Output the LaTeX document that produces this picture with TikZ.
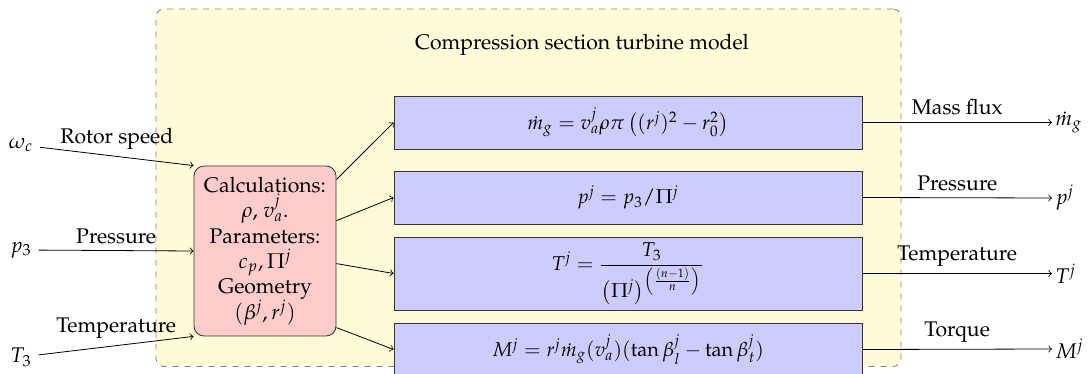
\documentclass[tikz,border=0pt]{standalone}
\usepackage[T1]{fontenc}
\usepackage{mathpazo}
\usepackage{amsmath}
\usetikzlibrary{positioning}
\definecolor{modelbg}{RGB}{255,250,215}

\begin{document}
\begin{tikzpicture}[x=0.5pt,y=-0.5pt,
    font=\fontsize{10.6}{12.7}\selectfont,
    modelbox/.style={draw=gray, dashed, fill=modelbg, rounded corners=4pt,
        minimum width=372.5pt, minimum height=178.75pt},
    calcbox/.style={draw=black!80, fill=red!20, rounded corners=5pt, align=center,
        minimum width=71pt, minimum height=85pt, inner sep=1pt},
    eqbox/.style={draw=black!80, fill=blue!20, minimum width=234pt,
        minimum height=26.5pt, inner sep=2pt, font=\normalsize},
    outlabel/.style={anchor=west, inner sep=1.5pt},
    signal/.style={->}]
    \useasboundingbox (0,0) rectangle (1089,374);

    % background of the model
    \node[modelbox] (model) at (528.5,187.75) {};
    \node (title) at (582,45) {Compression section turbine model};

    % central block
    \node[calcbox] (calc) at (265,251) {Calculations:\\ $\rho$, $v_a^j$.\\ Parameters:\\ $c_p, \Pi^j$\\ Geometry\\ $(\beta^j, r^j)$};

    % equations
    \node[eqbox] (mass) at (628,122.5) {$\dot{m}_g = v_a^j\rho\pi\left((r^j)^2 - r_0^2\right)$};
    \node[eqbox] (press) at (628,197.5) {$p^j = p_3/\Pi^j$};
    \node[eqbox, minimum height=36.5pt] (temp) at (628,273.5) {$T^j = \dfrac{T_3}{\left(\Pi^j\right)^{\left(\frac{(n-1)}{n}\right)}}$};
    \node[eqbox] (torque) at (628,349.5) {$M^j = r^j\dot{m}_g(v_a^j)(\tan\beta_l^j - \tan\beta_t^j)$};

    % inputs
    \node (omega) at (21,145) {$\omega_c$};
    \node (pin) at (21,250) {$p_3$};
    \node (tin) at (21,357) {$T_3$};

    \draw[signal] (omega) -- node[above] (lrotor) {Rotor speed} (calc.north west);
    \draw[signal] (pin) -- node[above] (lpin) {Pressure} (calc.west);
    \draw[signal] (tin) -- node[above] (ltin) {Temperature} (calc.south west);

    \draw[signal] (calc.45) -- (mass.west);
    \draw[signal] (calc.23) -- (press.west);
    \draw[signal] (calc.-10) -- (temp.west);
    \draw[signal] (calc.-47) -- (torque.west);

    % outputs
    \node[outlabel] (mout) at (1052,122.5) {$\dot{m}_g$};
    \node[outlabel] (pout) at (1052,198) {$p^j$};
    \node[outlabel] (tout) at (1052,273.5) {$T^j$};
    \node[outlabel] (Mout) at (1052,349) {$M^j$};

    \draw[signal] (mass.east) -- node[above] (lmass) {Mass flux} (mout.west);
    \draw[signal] (press.east) -- node[above] (lpout) {Pressure} (pout.west);
    \draw[signal] (temp.east) -- node[above] (ltout) {Temperature} (tout.west);
    \draw[signal] (torque.east) -- node[above] (ltorque) {Torque} (Mout.west);
\end{tikzpicture}
\end{document}
